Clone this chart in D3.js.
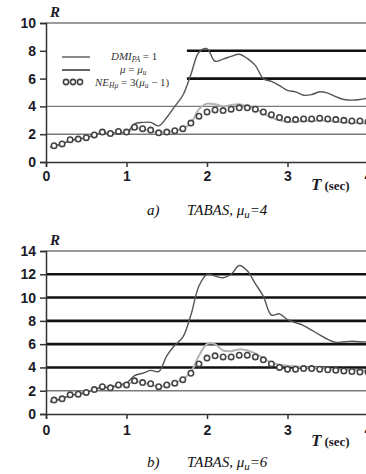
<!DOCTYPE html>
<html>
<head>
<meta charset="utf-8">
<script src="https://cdn.jsdelivr.net/npm/d3@7"></script>
<style>
  body { margin: 0; background: #fff; }
  svg { display: block; }
</style>
</head>
<body>
<div class="vis"></div>
<script>
var width = 366, height = 474

// periods used by the two solid curves and by the circle markers
var tLine = [0.05,0.1,0.2,0.3,0.4,0.5,0.6,0.7,0.8,0.9,1.0,1.1,1.2,1.3,1.4,1.5,1.6,1.7,1.8,1.9,2.0,
             2.1,2.2,2.3,2.4,2.5,2.6,2.7,2.8,2.9,3.0,3.1,3.2,3.3,3.4,3.5,3.6,3.7,3.8,3.9,4.0]
var tDots = [0.1,0.2,0.3,0.4,0.5,0.6,0.7,0.8,0.9,1.0,1.1,1.2,1.3,1.4,1.5,1.6,1.7,1.8,1.9,2.0,
             2.1,2.2,2.3,2.4,2.5,2.6,2.7,2.8,2.9,3.0,3.1,3.2,3.3,3.4,3.5,3.6,3.7,3.8,3.9,4.0]

// a) TABAS, mu_u = 4
var muA  = [1.05,1.15,1.3,1.55,1.65,1.75,1.95,2.1,2.05,2.15,2.1,2.75,2.85,2.85,2.6,3.2,4.0,4.8,6.3,7.9,8.15,
            7.25,7.4,7.6,7.75,7.45,6.95,6.0,5.8,5.5,5.15,5.05,4.8,4.85,5.05,4.95,4.7,4.5,4.45,4.5,4.6]
var dmiA = [1.05,1.15,1.3,1.55,1.65,1.75,1.95,2.1,2.0,2.1,2.05,2.45,2.35,2.25,2.1,2.15,2.25,2.4,2.8,3.8,4.2,
            4.15,4.0,4.1,4.15,4.0,3.8,3.5,3.2,3.0,2.9,2.9,2.95,2.95,3.0,2.95,2.9,2.85,2.85,2.8,2.75]
var neA  = [1.17,1.3,1.6,1.65,1.75,1.95,2.15,2.05,2.2,2.15,2.5,2.4,2.3,2.1,2.15,2.25,2.4,2.8,3.3,3.6,
            3.75,3.7,3.8,3.9,3.9,3.8,3.6,3.4,3.2,3.05,3.05,3.1,3.1,3.15,3.1,3.05,3.0,2.95,2.95,2.9]

// b) TABAS, mu_u = 6
var muB  = [1.05,1.15,1.3,1.6,1.7,1.85,2.1,2.3,2.3,2.5,2.65,3.3,3.5,3.75,3.65,5.0,5.9,6.6,8.5,11.0,12.0,
            11.85,11.7,12.0,12.75,12.3,11.2,10.1,8.5,8.6,8.1,7.85,7.6,7.2,6.8,6.4,6.15,6.2,6.25,6.2,6.2]
var dmiB = [1.05,1.15,1.3,1.6,1.7,1.85,2.1,2.3,2.25,2.45,2.5,2.8,2.7,2.55,2.35,2.45,2.65,3.0,3.6,5.0,6.0,
            6.0,5.45,5.4,5.55,5.45,5.2,4.8,4.4,4.25,4.15,4.1,4.0,4.0,3.95,3.9,3.85,3.8,3.8,3.75,3.75]
var neB  = [1.2,1.3,1.65,1.7,1.85,2.1,2.35,2.25,2.5,2.5,2.85,2.7,2.6,2.35,2.5,2.65,2.95,3.5,4.3,4.8,
            5.0,4.9,4.9,5.05,5.05,4.9,4.65,4.3,4.0,3.85,3.85,3.9,3.9,3.85,3.8,3.75,3.7,3.65,3.6,3.6]

var xTicks = [0, 1, 2, 3, 4]
var yTicksA = [0, 2, 4, 6, 8, 10]
var yTicksB = [0, 2, 4, 6, 8, 10, 12, 14]

var serif = "'Liberation Serif', 'Times New Roman', serif"
var sans = "'Liberation Sans', Arial, sans-serif"

var svg = d3.select(".vis").append("svg")
    .attr("width", width)
    .attr("height", height)

function drawPanel(opt){
  var x = d3.scaleLinear().domain([0, 4]).range([46, 368])
  var y = d3.scaleLinear().domain([0, opt.ymax]).range([opt.bottom, opt.top])
  var g = svg.append("g")

  // thin gray grid
  opt.thin.forEach(function(v){
    g.append("line")
      .attr("x1", x(0)).attr("x2", width)
      .attr("y1", y(v)).attr("y2", y(v))
      .attr("stroke", "#7a7a7a").attr("stroke-width", 1.4)
  })
  // heavy black grid
  opt.thick.forEach(function(v){
    g.append("line")
      .attr("x1", x(opt.thickFrom)).attr("x2", width)
      .attr("y1", y(v)).attr("y2", y(v))
      .attr("stroke", "#111").attr("stroke-width", 2.6)
  })

  // axes
  var ax = g.append("g")
    .attr("transform", "translate(0," + y(0) + ")")
    .call(d3.axisBottom(x).tickValues(xTicks).tickSize(5).tickPadding(opt.xPad).tickFormat(d3.format("d")))
  var ay = g.append("g")
    .attr("transform", "translate(" + x(0) + ",0)")
    .call(d3.axisLeft(y).tickValues(opt.yTicks).tickSize(6).tickPadding(4).tickFormat(d3.format("d")))
  ;[ax, ay].forEach(function(a){
    a.select(".domain").attr("stroke", "#333").attr("stroke-width", 1.5)
    a.selectAll(".tick line").attr("stroke", "#333").attr("stroke-width", 1.5)
    a.selectAll(".tick text")
      .attr("fill", "#1b1b28")
      .style("font-family", sans)
      .style("font-size", "14px")
      .style("font-weight", "bold")
  })
  ax.selectAll(".tick text").attr("dy", "0.75em")

  var line = d3.line()
      .x(function(d){ return x(d[0]) })
      .y(function(d){ return y(d[1]) })
      .curve(d3.curveCatmullRom)

  g.append("path")
    .datum(d3.zip(tLine, opt.dmi))
    .attr("d", line)
    .attr("fill", "none").attr("stroke", "#b3b3b3").attr("stroke-width", 2)

  g.append("path")
    .datum(d3.zip(tLine, opt.mu))
    .attr("d", line)
    .attr("fill", "none").attr("stroke", "#555").attr("stroke-width", 1.4)

  g.selectAll(".ne")
      .data(d3.zip(tDots, opt.ne))
    .enter().append("circle")
      .attr("class", "ne")
      .attr("cx", function(d){ return x(d[0]) })
      .attr("cy", function(d){ return y(d[1]) })
      .attr("r", 2.7)
      .attr("fill", "#fff").attr("stroke", "#444").attr("stroke-width", 1.6)

  // axis titles
  g.append("text")
    .attr("x", x(0) + 4).attr("y", y(opt.ymax) - 6)
    .style("font-family", serif)
    .style("font-weight", "bold").style("font-style", "italic").style("font-size", "15px")
    .attr("fill", "#1b1b28")
    .text("R")

  var tt = g.append("text")
    .attr("x", 311).attr("y", opt.tY)
    .style("font-family", serif)
    .style("font-weight", "bold").attr("fill", "#1b1b28")
  tt.append("tspan").style("font-style", "italic").style("font-size", "17px").text("T")
  tt.append("tspan").style("font-size", "13px").attr("dx", 3).text("(sec)")

  // caption
  var cap = g.append("text")
    .attr("y", opt.capY)
    .style("font-family", serif)
    .style("font-style", "italic").style("font-size", "15px").attr("fill", "#111")
  cap.append("tspan").attr("x", 147).text(opt.capLetter)
  cap.append("tspan").attr("x", 187).text("TABAS, μ")
  cap.append("tspan").attr("dy", 3).style("font-size", "11px").text("u")
  cap.append("tspan").attr("dy", -3).text("=" + opt.muu)

  return {x: x, y: y, g: g}
}

drawPanel({ymax: 10, top: 23, bottom: 162, yTicks: yTicksA,
  thin: [2, 4, 10], thick: [6, 8], thickFrom: 1.75, xPad: 3,
  mu: muA, dmi: dmiA, ne: neA, tY: 190, capY: 215, capLetter: "a)", muu: 4})

drawPanel({ymax: 14, top: 251, bottom: 414, yTicks: yTicksB,
  thin: [2, 14], thick: [4, 6, 8, 10, 12], thickFrom: 0, xPad: 5,
  mu: muB, dmi: dmiB, ne: neB, tY: 446, capY: 467, capLetter: "b)", muu: 6})

// legend (top panel only)
var lg = svg.append("g")
lg.append("line").attr("x1", 62).attr("x2", 90).attr("y1", 57).attr("y2", 57)
  .attr("stroke", "#8a8a8a").attr("stroke-width", 2)
lg.append("line").attr("x1", 62).attr("x2", 90).attr("y1", 70).attr("y2", 70)
  .attr("stroke", "#666").attr("stroke-width", 2)
;[66, 73, 80].forEach(function(cx){
  lg.append("circle").attr("cx", cx).attr("cy", 82).attr("r", 2.6)
    .attr("fill", "#fff").attr("stroke", "#444").attr("stroke-width", 1.6)
})

function legendText(y, parts, x){
  var t = lg.append("text").attr("x", x).attr("y", y)
    .style("font-family", serif).style("font-size", "11px").attr("fill", "#333")
  parts.forEach(function(p){
    var s = t.append("tspan").text(p[0])
    if(p[1]) s.style("font-style", "italic")
    if(p[2]) s.attr("dy", p[2])
    if(p[3]) s.style("font-size", p[3])
  })
}
legendText(60, [["DMI", true], ["PA", true, 2, "7.5px"], [" = 1", false, -2]], 111)
legendText(73, [["μ", true], [" = ", false], ["μ", true], ["u", true, 2, "7.5px"]], 120)
legendText(86, [["NE", true], ["Hμ", true, 2, "7.5px"], [" = 3(", false, -2], ["μ", true], ["u", true, 2, "7.5px"], [" − 1)", false, -2]], 95)
</script>
</body>
</html>
